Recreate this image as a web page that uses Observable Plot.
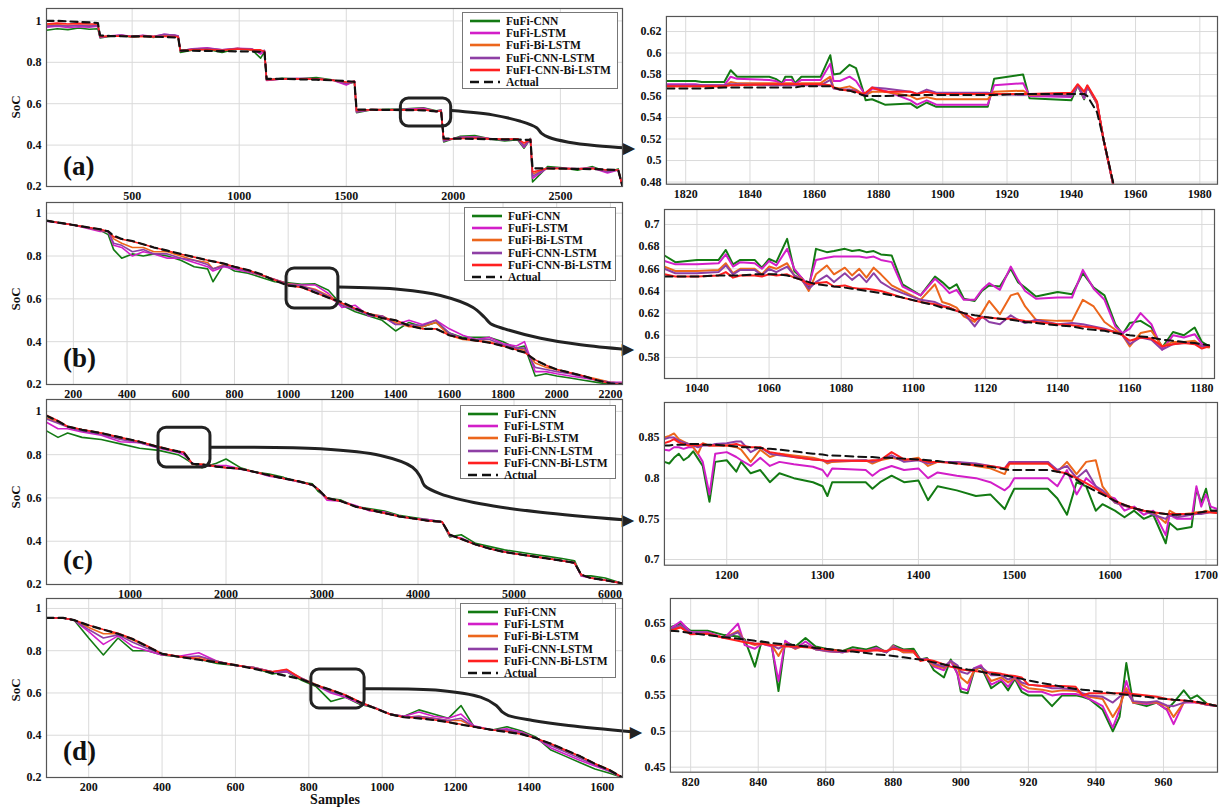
<!DOCTYPE html>
<html><head><meta charset="utf-8">
<script src="https://cdn.jsdelivr.net/npm/d3@7"></script>
<script src="https://cdn.jsdelivr.net/npm/@observablehq/plot@0.6"></script>
<style>
html,body{margin:0;padding:0;background:#fff;}
#fig{position:relative;width:1221px;height:809px;overflow:hidden;background:#fff;font-family:"Liberation Serif","Times New Roman",serif;font-weight:bold;color:#111;}
.abs{position:absolute;}
.legend{position:absolute;box-sizing:border-box;border:1px solid #777;background:#fff;padding:2px 0 0 7px;font-size:11.5px;z-index:5;}
.legend .row{display:flex;align-items:center;height:12.2px;white-space:nowrap;}
.legend svg{margin-right:6px;}
.plabel{position:absolute;font-size:27px;line-height:28px;z-index:6;}
.ylab{position:absolute;font-size:13px;transform:rotate(-90deg);width:40px;text-align:center;line-height:14px;}
</style></head>
<body><div id="fig"></div>
<script>
// ---------- series ----------
const seriesNames = ["FuFi-CNN","FuFi-LSTM","FuFi-Bi-LSTM","FuFi-CNN-LSTM","FuFi-CNN-Bi-LSTM"];
const seriesColors = ["#137a13","#d21ec8","#ec661c","#8e3fa5","#ff2020"];

// ---------- panel (a) full ----------
const xA = [100,150,200,250,300,340,350,400,450,500,550,600,650,700,715,725,780,850,920,990,1060,1100,1118,1128,1200,1280,1360,1440,1500,1538,1548,1620,1700,1780,1860,1920,1943,1955,2030,2100,2170,2240,2300,2330,2360,2370,2440,2510,2580,2650,2720,2770,2790];
const actA = [1.0,1.0,.998,.995,.993,.99,.93,.927,.926,.925,.925,.924,.922,.92,.92,.857,.856,.855,.854,.853,.852,.851,.85,.72,.72,.718,.716,.713,.709,.706,.572,.571,.57,.569,.568,.563,.562,.432,.431,.43,.429,.428,.427,.426,.425,.288,.287,.286,.285,.284,.282,.28,.2];
const cnnA = [.955,.962,.958,.966,.96,.962,.918,.926,.931,.921,.929,.92,.933,.93,.925,.848,.858,.863,.848,.866,.86,.82,.85,.713,.723,.72,.726,.714,.695,.704,.556,.571,.573,.575,.58,.566,.57,.415,.442,.446,.43,.42,.426,.385,.432,.222,.296,.29,.279,.296,.27,.285,.2];
const lstmA = [.97,.975,.968,.972,.97,.975,.92,.928,.932,.925,.93,.925,.935,.93,.928,.855,.865,.87,.86,.868,.865,.84,.855,.712,.72,.722,.72,.712,.69,.71,.56,.572,.57,.573,.578,.563,.569,.42,.438,.44,.432,.425,.43,.39,.43,.24,.29,.288,.285,.29,.265,.28,.2];
const bilA = [.98,.982,.978,.98,.978,.98,.925,.926,.928,.924,.926,.924,.93,.928,.925,.857,.862,.865,.858,.866,.862,.855,.852,.715,.72,.72,.72,.712,.7,.708,.565,.572,.57,.571,.572,.564,.566,.425,.435,.437,.43,.428,.43,.4,.428,.26,.288,.287,.285,.288,.275,.28,.2];
const cnnlA = [.975,.978,.975,.978,.975,.978,.922,.927,.93,.924,.928,.924,.935,.93,.927,.856,.864,.868,.86,.867,.863,.85,.858,.714,.72,.721,.72,.713,.698,.708,.562,.571,.571,.572,.571,.563,.567,.423,.437,.438,.43,.426,.43,.395,.428,.25,.289,.288,.285,.289,.272,.28,.2];
const cnnbA = [.985,.99,.985,.988,.985,.985,.925,.926,.927,.925,.926,.924,.925,.925,.922,.857,.86,.862,.858,.864,.86,.86,.852,.716,.72,.72,.719,.713,.705,.707,.568,.571,.57,.57,.571,.563,.565,.428,.432,.433,.43,.428,.43,.41,.427,.27,.288,.287,.285,.287,.28,.28,.2];

// ---------- panel (b) full ----------
const xB = [100,200,300,330,350,380,420,460,500,550,600,650,700,720,760,800,850,900,950,1000,1050,1100,1150,1200,1250,1300,1350,1400,1450,1500,1550,1600,1650,1700,1750,1800,1850,1880,1920,1960,2000,2050,2100,2150,2200,2245];
const actB = [.965,.945,.925,.915,.895,.88,.87,.855,.84,.825,.81,.795,.78,.775,.765,.75,.735,.715,.685,.662,.655,.63,.605,.585,.555,.53,.51,.5,.475,.46,.46,.43,.415,.405,.395,.38,.36,.35,.315,.29,.27,.255,.24,.22,.205,.2];
const cnnB = [.965,.945,.92,.9,.83,.79,.81,.8,.81,.8,.78,.75,.74,.68,.76,.73,.72,.7,.68,.675,.668,.67,.64,.57,.54,.52,.5,.45,.49,.47,.49,.44,.42,.42,.42,.4,.37,.38,.24,.25,.24,.23,.22,.21,.2,.2];
const lstmB = [.963,.945,.915,.915,.85,.84,.8,.82,.81,.79,.79,.77,.75,.73,.75,.74,.725,.71,.69,.67,.665,.665,.625,.56,.57,.52,.52,.48,.5,.48,.5,.46,.43,.41,.42,.39,.38,.4,.26,.26,.25,.24,.23,.22,.21,.21];
const bilB = [.965,.945,.92,.915,.88,.86,.84,.84,.82,.82,.8,.78,.77,.74,.76,.75,.73,.71,.69,.67,.66,.645,.615,.58,.55,.53,.52,.49,.47,.47,.49,.43,.41,.405,.4,.38,.37,.36,.3,.28,.27,.255,.24,.225,.21,.205];
const cnnlB = [.965,.945,.92,.915,.86,.85,.82,.83,.81,.81,.79,.78,.76,.74,.755,.745,.73,.71,.69,.668,.66,.64,.61,.57,.55,.525,.52,.48,.48,.475,.5,.44,.415,.41,.41,.385,.37,.37,.28,.27,.26,.25,.235,.22,.21,.205];
const cnnbB = [.965,.945,.925,.915,.89,.878,.868,.855,.84,.825,.808,.795,.78,.775,.765,.75,.735,.712,.688,.663,.653,.63,.605,.58,.555,.53,.51,.5,.475,.46,.46,.43,.415,.405,.395,.38,.362,.35,.315,.29,.27,.255,.24,.22,.205,.2];

// ---------- panel (c) full ----------
const xC = [130,250,350,500,700,900,1100,1300,1500,1560,1650,1750,1900,2000,2150,2300,2450,2600,2750,2900,2960,3050,3200,3350,3500,3650,3800,3950,4100,4250,4330,4450,4600,4750,4900,5050,5200,5350,5500,5630,5700,5800,5950,6130];
const actC = [.98,.955,.93,.915,.9,.88,.86,.835,.815,.81,.758,.755,.745,.74,.735,.72,.705,.69,.678,.66,.64,.6,.585,.56,.545,.53,.515,.505,.495,.49,.43,.41,.385,.365,.35,.34,.33,.32,.31,.3,.245,.23,.22,.205];
const cnnC = [.91,.88,.9,.88,.87,.85,.83,.82,.8,.785,.76,.74,.76,.78,.74,.72,.71,.695,.675,.665,.63,.6,.59,.56,.55,.54,.52,.51,.5,.49,.42,.43,.39,.375,.36,.35,.34,.33,.32,.31,.24,.24,.23,.205];
const lstmC = [.95,.92,.92,.905,.89,.86,.855,.83,.81,.8,.76,.75,.75,.75,.735,.72,.7,.69,.675,.66,.64,.59,.585,.565,.54,.535,.515,.505,.5,.49,.425,.415,.385,.365,.352,.34,.33,.32,.31,.3,.24,.23,.22,.205];
const bilC = [.97,.95,.93,.915,.9,.875,.86,.835,.815,.81,.755,.755,.745,.74,.735,.72,.705,.69,.677,.66,.64,.598,.585,.56,.545,.53,.515,.505,.495,.488,.43,.41,.385,.365,.35,.34,.33,.32,.31,.3,.245,.23,.22,.205];
const cnnlC = [.965,.945,.928,.91,.895,.87,.855,.833,.812,.81,.757,.752,.744,.74,.733,.72,.704,.69,.677,.66,.64,.6,.585,.56,.545,.53,.515,.505,.495,.488,.43,.41,.385,.365,.35,.34,.33,.32,.31,.3,.245,.23,.22,.205];
const cnnbC = [.982,.957,.93,.916,.9,.88,.86,.836,.815,.812,.758,.755,.746,.74,.735,.72,.705,.69,.678,.66,.64,.6,.585,.56,.545,.53,.515,.505,.495,.49,.43,.41,.385,.365,.35,.34,.33,.32,.31,.3,.245,.23,.22,.205];

// ---------- panel (d) full ----------
const xD = [85,130,160,200,240,280,320,360,400,450,500,550,600,650,700,740,780,820,860,900,940,980,1020,1060,1100,1140,1180,1215,1250,1300,1340,1380,1420,1460,1500,1540,1580,1620,1655];
const actD = [.955,.955,.945,.92,.9,.88,.855,.82,.785,.77,.757,.745,.732,.715,.695,.68,.665,.637,.615,.588,.555,.528,.5,.485,.48,.472,.462,.45,.44,.425,.415,.405,.385,.36,.33,.3,.265,.235,.2];
const cnnD = [.955,.955,.945,.86,.78,.86,.8,.8,.78,.77,.76,.74,.73,.72,.69,.7,.66,.63,.56,.58,.545,.53,.5,.49,.52,.5,.48,.54,.44,.425,.44,.42,.39,.33,.3,.27,.24,.22,.2];
const lstmD = [.955,.955,.945,.89,.83,.87,.82,.8,.78,.775,.79,.75,.73,.72,.7,.7,.67,.635,.6,.58,.55,.53,.5,.49,.51,.49,.48,.5,.445,.425,.43,.415,.385,.34,.31,.28,.255,.23,.2];
const bilD = [.955,.955,.945,.91,.88,.88,.85,.82,.785,.77,.77,.75,.73,.72,.7,.71,.67,.64,.61,.59,.555,.53,.5,.485,.49,.48,.47,.47,.44,.425,.42,.41,.385,.355,.325,.3,.265,.235,.2];
const cnnlD = [.955,.955,.945,.9,.86,.875,.84,.81,.785,.77,.775,.75,.73,.72,.7,.705,.67,.638,.605,.588,.555,.53,.5,.485,.49,.48,.47,.48,.44,.425,.425,.41,.385,.35,.32,.29,.26,.23,.2];
const cnnbD = [.955,.955,.945,.92,.9,.882,.856,.822,.785,.772,.76,.745,.733,.716,.7,.712,.666,.637,.615,.59,.557,.528,.5,.485,.482,.473,.462,.452,.44,.425,.418,.405,.385,.36,.33,.3,.265,.235,.2];

// ---------- zoom (a) ----------
const zxA = [1814,1823,1825,1832,1834,1836,1846,1848,1850,1851,1853,1854,1856,1862,1865,1866,1868,1871,1873,1875,1876,1878,1882,1890,1892,1895,1898,1914,1916,1925,1927,1940,1942,1944,1945,1948,1950,1953,1956];
const zactA = [.567,.567,.567,.568,.568,.568,.568,.568,.568,.568,.568,.568,.569,.569,.569,.568,.566,.565,.563,.561,.56,.56,.56,.561,.561,.561,.561,.561,.561,.562,.562,.562,.562,.562,.56,.545,.52,.48,.44];
const zcnnA = [.574,.574,.573,.573,.584,.578,.578,.576,.572,.578,.578,.572,.578,.578,.598,.58,.581,.589,.586,.567,.556,.557,.552,.553,.549,.554,.55,.55,.576,.58,.558,.556,.57,.557,.569,.553,.52,.478,.44];
const zlstmA = [.571,.571,.57,.57,.578,.576,.575,.574,.571,.575,.575,.571,.575,.575,.59,.574,.574,.578,.574,.565,.56,.567,.565,.556,.552,.556,.552,.552,.57,.572,.56,.559,.57,.558,.569,.553,.52,.478,.44];
const zbilA = [.569,.569,.569,.569,.573,.572,.572,.572,.571,.572,.572,.571,.572,.572,.578,.568,.567,.569,.566,.562,.561,.564,.564,.56,.557,.559,.557,.557,.564,.565,.561,.561,.57,.56,.569,.553,.52,.478,.44];
const zcnnlA = [.57,.57,.57,.57,.571,.571,.57,.57,.57,.57,.57,.57,.57,.57,.575,.567,.566,.566,.565,.561,.561,.568,.567,.564,.562,.566,.563,.563,.562,.561,.562,.56,.57,.559,.569,.554,.52,.478,.44];
const zcnnbA = [.569,.569,.569,.569,.57,.57,.571,.571,.571,.571,.571,.571,.571,.571,.57,.568,.566,.565,.564,.562,.563,.568,.564,.564,.562,.564,.562,.562,.562,.562,.562,.563,.571,.564,.57,.555,.52,.479,.44];

// ---------- zoom (b) ----------
const zxB = [1031,1034,1040,1046,1048,1050,1052,1056,1058,1060,1062,1065,1067,1069,1071,1073,1076,1078,1081,1083,1085,1087,1089,1091,1094,1097,1102,1106,1108,1110,1112,1114,1117,1119,1121,1124,1127,1129,1131,1134,1140,1144,1147,1150,1153,1156,1158,1160,1163,1166,1169,1172,1175,1178,1180,1182];
const zactB = [.653,.653,.653,.654,.654,.654,.654,.655,.655,.655,.655,.654,.652,.65,.648,.646,.645,.644,.643,.642,.641,.64,.639,.638,.636,.634,.63,.627,.625,.624,.622,.62,.618,.617,.616,.615,.614,.613,.612,.611,.609,.608,.606,.605,.604,.602,.601,.6,.599,.598,.596,.595,.594,.593,.592,.591];
const zcnnB = [.672,.666,.668,.668,.677,.664,.668,.668,.661,.669,.666,.687,.658,.652,.642,.678,.675,.676,.678,.676,.677,.675,.676,.673,.672,.646,.636,.653,.648,.642,.646,.633,.631,.64,.645,.644,.66,.648,.643,.635,.639,.637,.656,.643,.636,.61,.601,.611,.613,.607,.589,.603,.6,.607,.594,.59];
const zlstmB = [.667,.664,.664,.665,.673,.662,.666,.665,.66,.667,.663,.678,.66,.652,.645,.668,.67,.671,.671,.671,.671,.67,.671,.668,.666,.644,.636,.651,.645,.638,.641,.632,.632,.641,.647,.641,.662,.65,.64,.633,.634,.634,.659,.642,.632,.608,.602,.606,.62,.61,.587,.6,.598,.601,.592,.59];
const zbilB = [.662,.658,.658,.659,.665,.656,.66,.66,.655,.662,.66,.665,.654,.651,.64,.655,.663,.655,.661,.654,.66,.652,.661,.655,.645,.64,.632,.646,.63,.628,.625,.617,.612,.62,.631,.619,.636,.638,.626,.614,.613,.613,.632,.626,.612,.605,.6,.59,.602,.604,.59,.594,.594,.595,.59,.589];
const zcnnlB = [.66,.656,.656,.657,.663,.655,.659,.659,.654,.66,.657,.662,.654,.65,.642,.648,.654,.648,.656,.65,.655,.648,.656,.648,.642,.638,.632,.63,.627,.625,.622,.62,.608,.617,.612,.61,.618,.614,.611,.614,.61,.611,.61,.608,.606,.603,.6,.592,.598,.596,.587,.592,.593,.593,.59,.59];
const zcnnbB = [.655,.653,.653,.654,.657,.652,.654,.654,.653,.655,.654,.655,.652,.65,.646,.647,.648,.644,.645,.643,.642,.642,.641,.64,.637,.634,.63,.628,.626,.625,.622,.62,.614,.616,.616,.615,.615,.614,.613,.612,.61,.609,.608,.607,.605,.603,.6,.595,.598,.597,.59,.592,.593,.592,.588,.59];

// ---------- zoom (c) ----------
const zxC = [1135,1140,1145,1150,1155,1160,1165,1170,1175,1182,1188,1200,1210,1215,1225,1235,1245,1255,1270,1290,1300,1305,1310,1345,1352,1360,1372,1385,1400,1410,1420,1440,1460,1475,1490,1495,1500,1535,1545,1555,1565,1575,1585,1592,1605,1615,1625,1635,1645,1658,1662,1670,1685,1690,1695,1700,1705,1712];
const zactC = [.84,.84,.841,.841,.841,.842,.842,.842,.841,.841,.841,.84,.839,.838,.838,.837,.836,.835,.833,.83,.829,.828,.828,.826,.826,.825,.825,.824,.823,.822,.821,.818,.816,.814,.811,.81,.81,.81,.808,.805,.798,.79,.784,.78,.772,.767,.763,.76,.758,.756,.755,.755,.756,.757,.758,.759,.76,.76];
const zcnnC = [.82,.818,.825,.83,.822,.826,.833,.824,.815,.771,.82,.822,.808,.82,.806,.81,.795,.806,.8,.795,.79,.778,.795,.795,.787,.795,.803,.795,.797,.773,.79,.785,.778,.78,.762,.775,.787,.787,.775,.755,.795,.79,.76,.768,.76,.752,.76,.75,.755,.72,.745,.737,.74,.787,.77,.787,.76,.76];
const zlstmC = [.835,.834,.838,.838,.836,.838,.838,.83,.82,.78,.83,.832,.826,.822,.815,.825,.815,.82,.817,.814,.81,.802,.812,.81,.803,.81,.815,.81,.812,.8,.807,.803,.8,.795,.785,.79,.8,.8,.79,.81,.78,.8,.79,.78,.775,.76,.765,.755,.76,.73,.755,.75,.75,.79,.765,.78,.765,.762];
const zbilC = [.85,.852,.855,.848,.845,.842,.838,.83,.843,.84,.84,.84,.838,.835,.82,.835,.826,.83,.828,.825,.822,.818,.82,.822,.818,.822,.825,.822,.825,.815,.82,.82,.815,.812,.805,.818,.818,.818,.808,.82,.805,.82,.822,.79,.77,.766,.763,.76,.758,.745,.76,.755,.757,.758,.758,.76,.758,.757];
const zcnnlC = [.848,.85,.85,.846,.844,.842,.84,.838,.84,.84,.842,.843,.845,.845,.832,.838,.83,.828,.826,.823,.822,.82,.821,.822,.82,.823,.828,.82,.822,.818,.82,.82,.818,.815,.812,.82,.82,.82,.81,.815,.8,.81,.79,.785,.77,.766,.763,.76,.755,.75,.755,.752,.755,.756,.756,.757,.758,.758];
const zcnnbC = [.843,.845,.848,.844,.842,.84,.841,.84,.842,.84,.84,.84,.842,.84,.838,.838,.832,.83,.826,.823,.822,.821,.822,.821,.822,.822,.832,.823,.823,.82,.82,.818,.816,.815,.812,.818,.818,.818,.808,.806,.8,.794,.787,.782,.772,.767,.763,.76,.758,.756,.756,.756,.756,.757,.758,.758,.758,.757];

// ---------- zoom (d) ----------
const zxD = [814,817,820,825,830,834,836,839,841,844,846,848,851,854,857,860,865,868,872,875,878,880,883,886,888,890,892,895,897,899,900,902,904,906,909,912,914,916,918,920,924,927,930,934,936,938,942,945,947,949,951,955,958,961,963,966,968,970,973,976];
const zactD = [.64,.639,.637,.634,.631,.629,.628,.626,.625,.623,.622,.621,.62,.618,.616,.615,.612,.611,.609,.607,.606,.605,.603,.601,.6,.598,.596,.593,.591,.589,.588,.586,.585,.583,.58,.578,.577,.575,.573,.571,.567,.565,.562,.559,.558,.557,.555,.553,.552,.551,.55,.548,.546,.545,.544,.543,.542,.541,.538,.535];
const zcnnD = [.645,.65,.64,.64,.634,.632,.628,.59,.625,.62,.556,.625,.618,.63,.618,.615,.612,.617,.614,.618,.61,.62,.614,.615,.6,.602,.585,.575,.6,.58,.555,.553,.585,.59,.56,.57,.557,.573,.555,.55,.55,.535,.55,.55,.548,.545,.53,.5,.52,.595,.54,.535,.54,.53,.54,.557,.545,.55,.538,.535];
const zlstmD = [.643,.653,.638,.638,.63,.65,.62,.615,.622,.618,.57,.626,.615,.625,.615,.612,.61,.614,.612,.616,.61,.619,.61,.61,.6,.6,.59,.585,.598,.58,.56,.557,.588,.592,.565,.572,.562,.575,.56,.555,.555,.55,.552,.552,.55,.545,.535,.505,.53,.57,.54,.538,.54,.53,.51,.54,.54,.54,.537,.535];
const zbilD = [.64,.645,.636,.636,.63,.64,.625,.62,.622,.62,.605,.622,.615,.62,.614,.612,.61,.612,.612,.614,.61,.618,.61,.61,.6,.6,.592,.588,.598,.59,.575,.567,.585,.59,.57,.575,.568,.575,.565,.56,.558,.555,.557,.556,.552,.548,.545,.52,.535,.56,.54,.54,.54,.535,.52,.54,.542,.54,.537,.535];
const zcnnlD = [.642,.648,.637,.636,.63,.638,.625,.622,.622,.62,.615,.62,.616,.62,.614,.612,.61,.613,.611,.614,.61,.617,.613,.612,.6,.601,.594,.59,.598,.592,.583,.58,.588,.59,.578,.578,.572,.576,.568,.565,.563,.56,.56,.558,.553,.55,.548,.54,.548,.555,.542,.54,.542,.536,.535,.54,.542,.54,.537,.535];
const zcnnbD = [.64,.645,.635,.636,.63,.626,.624,.622,.622,.62,.62,.618,.618,.617,.616,.614,.612,.613,.612,.613,.612,.615,.613,.612,.598,.6,.598,.593,.59,.588,.586,.585,.584,.583,.582,.58,.578,.577,.575,.565,.563,.563,.563,.562,.55,.553,.553,.553,.553,.553,.552,.55,.548,.545,.544,.543,.542,.54,.538,.535];

// ---------- callouts (data units of the full panels) ----------
const boxA = [1755, 1990, 0.49, 0.625];
const arrowAx = [1992, 2183, 2314, 2389, 2412, 2445, 2538, 2669, 2818];
const arrowAy = [0.567, 0.546, 0.515, 0.484, 0.457, 0.438, 0.414, 0.397, 0.386];
const boxB = [994, 1187, 0.555, 0.742];
const arrowBx = [1187, 1418, 1567, 1687, 1731, 1754, 1806, 1940, 2089, 2260];
const arrowBy = [0.655, 0.644, 0.616, 0.561, 0.514, 0.484, 0.46, 0.416, 0.386, 0.364];
const boxC = [1297, 1838, 0.741, 0.925];
const arrowCx = [1838, 2984, 3609, 3943, 4026, 4068, 4234, 4651, 5276, 6172];
const arrowCy = [0.834, 0.827, 0.796, 0.742, 0.696, 0.657, 0.619, 0.573, 0.534, 0.498];
const boxD = [807, 952, 0.527, 0.711];
const arrowDx = [952, 1159, 1268, 1311, 1328, 1344, 1410, 1508, 1688];
const arrowDy = [0.62, 0.612, 0.58, 0.541, 0.509, 0.493, 0.47, 0.446, 0.415];

// ---------- ticks ----------
const xtA = [500,1000,1500,2000,2500], xtB = [200,400,600,800,1000,1200,1400,1600,1800,2000,2200];
const xtC = [1000,2000,3000,4000,5000,6000], xtD = [200,400,600,800,1000,1200,1400,1600];
const ytFull = [0.2,0.4,0.6,0.8,1];
const zxtA = [1820,1840,1860,1880,1900,1920,1940,1960,1980], zytA = [0.48,0.5,0.52,0.54,0.56,0.58,0.6,0.62];
const zxtB = [1040,1060,1080,1100,1120,1140,1160,1180], zytB = [0.58,0.6,0.62,0.64,0.66,0.68,0.7];
const zxtC = [1200,1300,1400,1500,1600,1700], zytC = [0.7,0.75,0.8,0.85];
const zxtD = [820,840,860,880,900,920,940,960], zytD = [0.45,0.5,0.55,0.6,0.65];

// ---------- drawing ----------
const fig = document.getElementById("fig");
const fmt = d3.format("~g");

function check(xs, arrs){ arrs.forEach((a,i)=>{ if(a.length!==xs.length) throw new Error("length mismatch "+i+": "+a.length+" vs "+xs.length); }); }

function makePlot(xs, act, ser, L) {
  check(xs, ser.concat([act]));
  const marks = [
    Plot.ruleX(L.xt, {x: d => d, stroke: "#dadada", strokeWidth: 1}),
    Plot.ruleY(L.yt, {y: d => d, stroke: "#dadada", strokeWidth: 1})
  ];
  ser.forEach((ys,i)=>marks.push(Plot.line(ys,{x:xs,y:ys,stroke:seriesColors[i],strokeWidth:L.lw,clip:true})));
  marks.push(Plot.line(act,{x:xs,y:act,stroke:"#111",strokeWidth:L.dw,strokeDasharray:L.dash,clip:true}));
  if (L.box) {
    const b = L.box;
    marks.push(Plot.rect([0],{x1:[b[0]],x2:[b[1]],y1:[b[2]],y2:[b[3]],rx:8,fill:"none",stroke:"#222",strokeWidth:3}));
    marks.push(Plot.line(L.ax,{x:L.ax,y:L.ay,curve:"catmull-rom",stroke:"#222",strokeWidth:3}));
    const n = L.ax.length-1;
    marks.push(Plot.text([0],{x:[L.ax[n]],y:[L.ay[n]],text:["\u25B6"],fontSize:15,textAnchor:"start",dx:-5,fill:"#222"}));
  }
  marks.push(Plot.frame({stroke:"#555",strokeWidth:1.2}));
  const H = L.fb - L.ft + L.mt + L.mb;
  const svg = Plot.plot({
    width: L.w, height: H,
    marginLeft: L.ml, marginRight: L.mr, marginTop: L.mt, marginBottom: L.mb,
    x:{domain:L.xd,ticks:L.xt,tickFormat:fmt,tickSize:0,tickPadding:5,label:null},
    y:{domain:L.yd,ticks:L.yt,tickFormat:fmt,tickSize:0,tickPadding:5,label:null},
    style:{fontFamily:'"Liberation Serif","Times New Roman",serif',fontSize:"12px",fontWeight:"bold",background:"transparent",overflow:"visible",color:"#111"},
    marks
  });
  const d = document.createElement("div");
  d.className = "abs";
  d.style.left = L.left+"px"; d.style.top = (L.ft - L.mt)+"px"; d.style.zIndex = L.z;
  d.appendChild(svg);
  fig.appendChild(d);
}

function legend(left, top, w, h, fifth) {
  const div = document.createElement("div");
  div.className = "legend";
  Object.assign(div.style,{left:left+"px",top:top+"px",width:w+"px",height:h+"px"});
  const names = seriesNames.slice(); names[4] = fifth;
  const entries = names.map((n,i)=>({n, c:seriesColors[i], dash:""})).concat([{n:"Actual",c:"#111",dash:"9,5"}]);
  div.innerHTML = entries.map(e=>`<div class="row"><svg width="30" height="8"><line x1="0" x2="30" y1="4" y2="4" stroke="${e.c}" stroke-width="2.6" ${e.dash?`stroke-dasharray="${e.dash}"`:""}/></svg><span>${e.n}</span></div>`).join("");
  fig.appendChild(div);
}
function text(cls, t, left, top) {
  const d = document.createElement("div"); d.className = cls; d.textContent = t;
  d.style.left = left+"px"; d.style.top = top+"px"; fig.appendChild(d);
}

const LW = {left:0,w:665,ml:46,mr:43,mt:8,mb:22,lw:1.6,dw:2.2,dash:"7,5",z:3};
const RW = {mt:8,mb:22,lw:2,dw:2,dash:"8,5",z:2};

makePlot(xA, actA, [cnnA,lstmA,bilA,cnnlA,cnnbA], {...LW, ft:8, fb:186, xd:[100,2790], yd:[0.2,1.06], xt:xtA, yt:ytFull, box:boxA, ax:arrowAx, ay:arrowAy});
makePlot(xB, actB, [cnnB,lstmB,bilB,cnnlB,cnnbB], {...LW, ft:202, fb:384, xd:[100,2245], yd:[0.2,1.05], xt:xtB, yt:ytFull, box:boxB, ax:arrowBx, ay:arrowBy});
makePlot(xC, actC, [cnnC,lstmC,bilC,cnnlC,cnnbC], {...LW, ft:399, fb:584, xd:[130,6130], yd:[0.2,1.055], xt:xtC, yt:ytFull, box:boxC, ax:arrowCx, ay:arrowCy});
makePlot(xD, actD, [cnnD,lstmD,bilD,cnnlD,cnnbD], {...LW, ft:598, fb:777, xd:[85,1655], yd:[0.2,1.047], xt:xtD, yt:ytFull, box:boxD, ax:arrowDx, ay:arrowDy});

makePlot(zxA, zactA, [zcnnA,zlstmA,zbilA,zcnnlA,zcnnbA], {...RW, left:614, w:608, ml:52, mr:4, ft:16, fb:184, xd:[1814,1985.5], yd:[0.478,0.634], xt:zxtA, yt:zytA});
makePlot(zxB, zactB, [zcnnB,zlstmB,zbilB,zcnnlB,zcnnbB], {...RW, left:612, w:606, ml:52, mr:4, ft:209, fb:378, xd:[1031,1183.5], yd:[0.561,0.7135], xt:zxtB, yt:zytB});
makePlot(zxC, zactC, [zcnnC,zlstmC,zbilC,zcnnlC,zcnnbC], {...RW, left:612, w:610, ml:52, mr:4, ft:402, fb:565, xd:[1135,1712], yd:[0.693,0.893], xt:zxtC, yt:zytC});
makePlot(zxD, zactD, [zcnnD,zlstmD,zbilD,zcnnlD,zcnnbD], {...RW, left:618, w:604, ml:52, mr:4, ft:598, fb:772, xd:[814,976], yd:[0.443,0.685], xt:zxtD, yt:zytD});

legend(462, 12, 156, 77, "FuFI-CNN-Bi-LSTM");
legend(464, 207, 152, 74, "FuFi-CNN-Bi-LSTM");
legend(460, 405, 156, 74, "FuFi-CNN-Bi-LSTM");
legend(460, 603, 156, 75, "FuFi-CNN-Bi-LSTM");

text("plabel","(a)",63,152);
text("plabel","(b)",63,344);
text("plabel","(c)",63,546);
text("plabel","(d)",63,737);
text("ylab","SoC",-4,100);
text("ylab","SoC",-4,292);
text("ylab","SoC",-4,490);
text("ylab","SoC",-4,683);
const s = document.createElement("div");
s.className="abs"; s.textContent="Samples";
Object.assign(s.style,{left:"300px",top:"792px",width:"70px",textAlign:"center",fontSize:"14px",zIndex:6});
fig.appendChild(s);
</script>
</body></html>
